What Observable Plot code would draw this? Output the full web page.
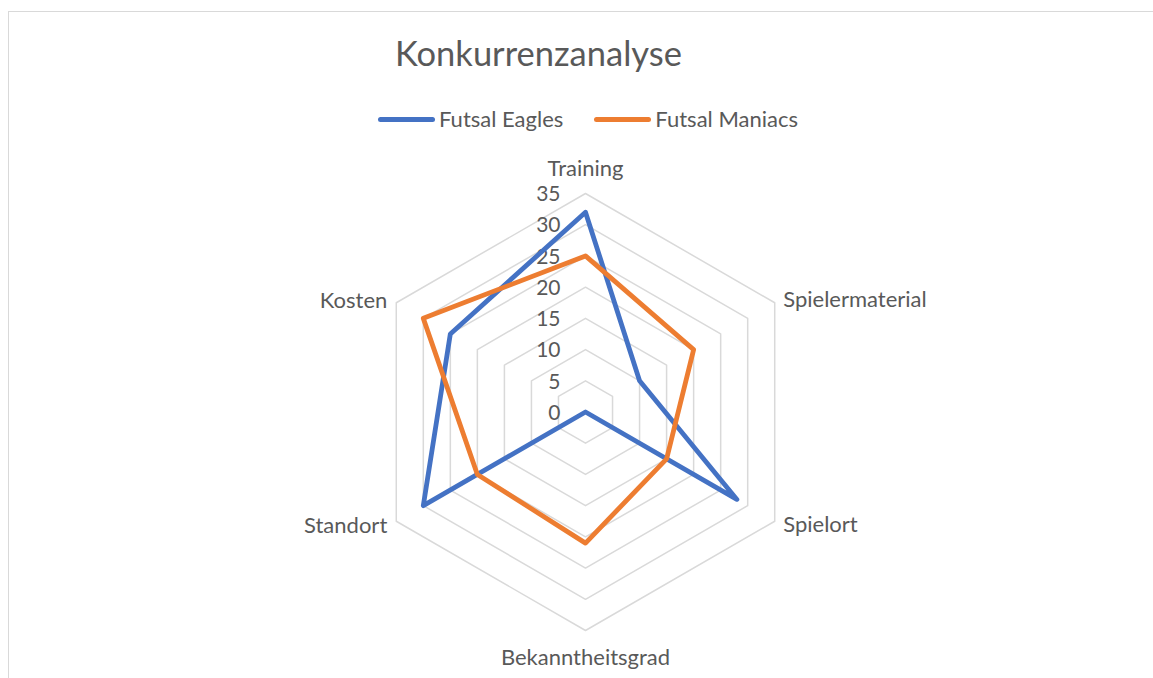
<!DOCTYPE html>
<html>
<head>
<meta charset="utf-8">
<script src="https://cdn.jsdelivr.net/npm/d3@7"></script>
<script src="https://cdn.jsdelivr.net/npm/@observablehq/plot@0.6"></script>
<style>
  html, body { margin: 0; padding: 0; background: #fff; overflow: hidden; }
  #wrap { position: relative; width: 1153px; height: 678px; overflow: hidden; font-family: Lato, "Open Sans", sans-serif; color: #595959; }
  #frame { position: absolute; left: 8px; top: 11px; width: 1300px; height: 800px; border: 1.5px solid #d9d9d9; box-sizing: border-box; }
  #title { position: absolute; left: 395px; top: 33px; font-size: 34.5px; font-weight: 400; white-space: nowrap; line-height: 40px; }
  #legend { position: absolute; left: 378px; top: 106px; display: flex; align-items: center; font-size: 22px; line-height: 26px; white-space: nowrap; }
  .sw { display: inline-block; width: 57px; height: 5px; border-radius: 3px; margin-right: 4px; }
  #chart { position: absolute; left: 0; top: 140px; }
</style>
</head>
<body>
<div id="wrap">
  <div id="frame"></div>
  <div id="title"></div>
  <div id="legend"></div>
  <div id="chart"></div>
</div>
<script>
const title = "Konkurrenzanalyse";
const categories = ["Training", "Spielermaterial", "Spielort", "Bekanntheitsgrad", "Standort", "Kosten"];
const seriesNames = ["Futsal Eagles", "Futsal Maniacs"];
const eagles = [32, 10, 28, 0, 30, 25];
const maniacs = [25, 20, 15, 21, 20, 30];
const tickValues = [0, 5, 10, 15, 20, 25, 30, 35];
const colors = ["#4472C4", "#ED7D31"];

const maxV = 35;
const n = categories.length;
const ang = i => (i * 2 * Math.PI) / n;
const px = (v, i) => v * Math.sin(ang(i));
const py = (v, i) => v * Math.cos(ang(i));

const seriesData = [eagles, maniacs].flatMap((vals, s) =>
  vals.map((v, i) => ({series: seriesNames[s], cat: categories[i], x: px(v, i), y: py(v, i)})));

const gridData = tickValues.filter(t => t > 0).flatMap(t =>
  categories.map((c, i) => ({ring: t, x: px(t, i), y: py(t, i)})));

const tickData = tickValues.map(t => ({t, x: 0, y: t}));

const labelData = categories.map((c, i) => ({cat: c, i, x: px(maxV, i), y: py(maxV, i)}));

// title + legend
document.getElementById("title").textContent = title;
const legend = document.getElementById("legend");
seriesNames.forEach((name, s) => {
  const item = document.createElement("span");
  item.style.display = "inline-flex";
  item.style.alignItems = "center";
  item.style.marginRight = s === 0 ? "31px" : "0";
  const sw = document.createElement("span");
  sw.className = "sw";
  sw.style.background = colors[s];
  const tx = document.createElement("span");
  tx.textContent = name;
  item.appendChild(sw);
  item.appendChild(tx);
  legend.appendChild(item);
});

const cx = 585, cy = 271.5, R = 218.5;
const labelOpts = [
  {textAnchor: "middle", dx: 0, dy: -25},
  {textAnchor: "start", dx: 8.5, dy: -3},
  {textAnchor: "start", dx: 8.5, dy: 4},
  {textAnchor: "middle", dx: 0, dy: 27},
  {textAnchor: "end", dx: -9, dy: 5},
  {textAnchor: "end", dx: -9, dy: -2}
];

const textStyle = {fill: "#595959", fontFamily: "Lato, 'Open Sans', sans-serif"};

const plot = Plot.plot({
  width: 1153,
  height: 538,
  margin: 0,
  style: {background: "transparent", overflow: "visible"},
  x: {domain: [-maxV, maxV], range: [cx - R, cx + R], axis: null},
  y: {domain: [-maxV, maxV], range: [cy + R, cy - R], axis: null},
  marks: [
    Plot.line(gridData, {x: "x", y: "y", z: "ring", curve: "linear-closed", stroke: "#d9d9d9", strokeWidth: 1.5}),
    Plot.text(tickData, {x: "x", y: "y", text: d => String(d.t), textAnchor: "end", dx: -25, dy: 1, fontSize: 21, ...textStyle}),
    ...labelData.map((d, i) => Plot.text([d], {x: "x", y: "y", text: "cat", ...labelOpts[i], fontSize: 22, ...textStyle})),
    Plot.line(seriesData, {x: "x", y: "y", z: "series", stroke: "series", curve: "linear-closed", strokeWidth: 4.8, strokeLinejoin: "round", strokeLinecap: "round"})
  ],
  color: {domain: seriesNames, range: colors}
});
document.getElementById("chart").appendChild(plot);
</script>
</body>
</html>
